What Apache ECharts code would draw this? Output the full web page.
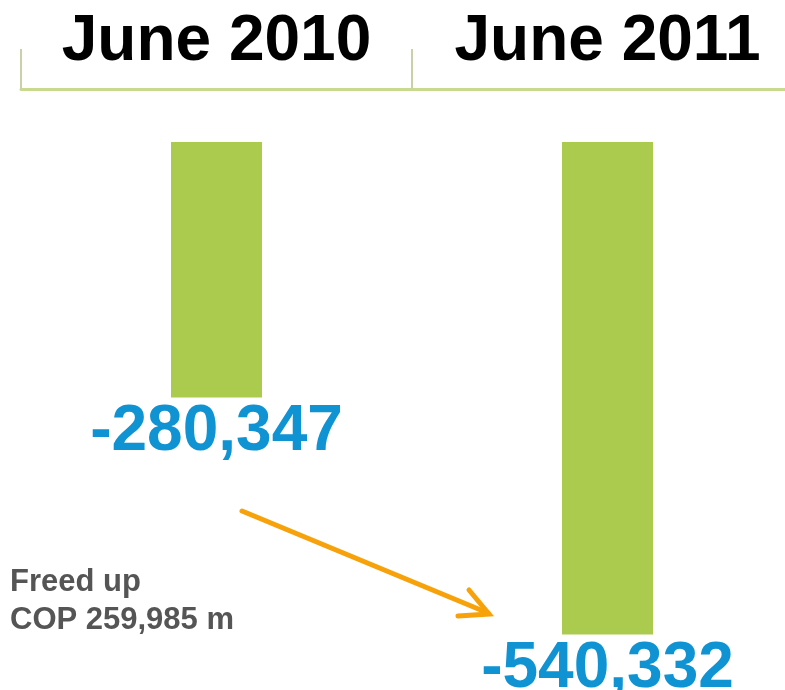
<!DOCTYPE html>
<html><head><meta charset="utf-8">
<script src="https://cdn.jsdelivr.net/npm/echarts@6/dist/echarts.min.js"></script>
<style>html,body{margin:0;padding:0;background:#fff}#c{width:785px;height:690px}</style>
</head><body><div id="c"></div>
<script>
const categories = ['June 2010', 'June 2011'];
const values = [-280347, -540332];
const note = ['Freed up', 'COP 259,985 m'];

const chart = echarts.init(document.getElementById('c'));
const fmt = v => '-' + Math.abs(v).toLocaleString('en-US');
chart.setOption({
  animation: false,
  grid: { left: 21, width: 782, top: 89, height: 600, outerBoundsMode: 'none', containLabel: false },
  xAxis: {
    type: 'category', data: categories, position: 'top',
    axisLine: { show: true, onZero: false, lineStyle: { color: '#c9da8f', width: 3 } },
    axisTick: { show: true, length: 40, lineStyle: { color: '#c8d2a8', width: 2 } },
    axisLabel: { interval: 0, color: '#000', fontSize: 64, fontWeight: 'bold', fontFamily: 'Liberation Sans, Arial, sans-serif', margin: 15 }
  },
  yAxis: {
    type: 'value', min: -600000, max: 58000, show: false, splitLine: { show: false }
  },
  series: [{
    type: 'bar', data: values, barWidth: 91,
    itemStyle: { color: '#abcb4f' },
    label: {
      show: true, position: 'bottom', distance: 3,
      formatter: p => fmt(p.value),
      color: '#0f93d3', fontSize: 64, fontWeight: 'bold', fontFamily: 'Liberation Sans, Arial, sans-serif'
    }
  }],
  graphic: [
    { type: 'text', left: 10, top: 563, style: { text: note.join('\n'), fill: '#555', font: 'bold 31px "Liberation Sans", Arial, sans-serif', lineHeight: 38 } },
    { type: 'line', shape: { x1: 242, y1: 511, x2: 488, y2: 613 }, style: { stroke: '#f7a20a', lineWidth: 5, lineCap: 'round' } },
    { type: 'polyline', shape: { points: [[469, 590], [489, 614], [458, 616]] }, style: { stroke: '#f7a20a', lineWidth: 5, lineCap: 'round', lineJoin: 'miter', fill: null } }
  ]
});
</script></body></html>
